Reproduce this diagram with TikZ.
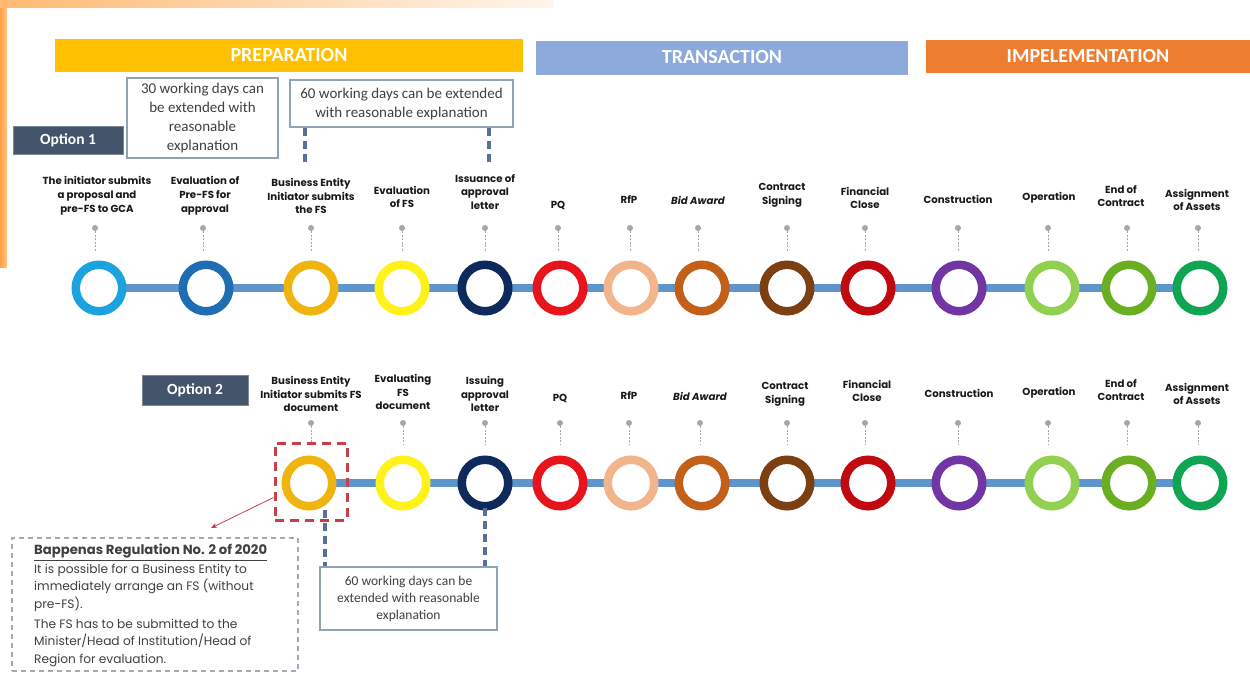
\documentclass[tikz,border=0pt]{standalone}
\usepackage{fontspec}
\setmainfont{Carlito}
\newfontfamily\lab{Poppins}
\usetikzlibrary{backgrounds,calc,arrows.meta}
\pgfdeclarelayer{bottom}
\pgfsetlayers{bottom,background,main}
\definecolor{prepY}{HTML}{FFC000}
\definecolor{transB}{HTML}{8EA9DB}
\definecolor{implO}{HTML}{ED7D31}
\definecolor{optBox}{HTML}{44546A}
\definecolor{tline}{HTML}{5E95CC}
\definecolor{boxBorder}{HTML}{8FA3B4}
\definecolor{boxTxt}{HTML}{404040}
\definecolor{vdash}{HTML}{5A6F9C}
\definecolor{redD}{HTML}{C6404A}
\definecolor{grayD}{HTML}{A3AAB6}
\definecolor{dotG}{HTML}{A6A6A6}
\definecolor{cA}{HTML}{1BA3E0}
\definecolor{cB}{HTML}{1F6DB3}
\definecolor{cC}{HTML}{F0B40F}
\definecolor{cD}{HTML}{FFF21A}
\definecolor{cE}{HTML}{0E2A5C}
\definecolor{cF}{HTML}{E8141C}
\definecolor{cG}{HTML}{F2B48A}
\definecolor{cH}{HTML}{C2601A}
\definecolor{cI}{HTML}{7B3F12}
\definecolor{cJ}{HTML}{C00A10}
\definecolor{cK}{HTML}{7236A4}
\definecolor{cL}{HTML}{92D050}
\definecolor{cM}{HTML}{6AAE22}
\definecolor{cN}{HTML}{0FA552}
\tikzset{
  ring/.style={circle, draw=#1, line width=8.5pt, minimum size=46.5pt, inner sep=0pt, fill=white},
  phase/.style={fill=#1, text=white, font=\bfseries\fontsize{20}{22}\selectfont, inner sep=0pt},
  optbox/.style={fill=optBox, text=white, font=\bfseries\fontsize{15.5}{17}\selectfont, inner sep=0pt, draw=optBox!70!white, line width=0.8pt},
  lbl/.style={align=center, text=black!90, font=\lab\bfseries\fontsize{10.2}{13.8}\selectfont, inner sep=0pt},
  ilbl/.style={lbl, font=\lab\bfseries\itshape\fontsize{10.2}{13.8}\selectfont},
  gdot/.style={circle, fill=dotG, minimum size=6pt, inner sep=0pt},
  stem/.style={draw=dotG, line width=0.6pt, dash pattern=on 2pt off 1.5pt},
  notebox/.style={draw=boxBorder, line width=1.2pt, fill=white, align=center, text=boxTxt, inner sep=0pt},
  bluedash/.style={draw=vdash, line width=3.5pt, dash pattern=on 8pt off 5pt},
  tl/.style={draw=tline, line width=7.5pt},
}
\begin{document}
\begin{tikzpicture}[x=1pt,y=-1pt]
\useasboundingbox (0,0) rectangle (1250,672);
\begin{pgfonlayer}{bottom}
\fill[white] (0,0) rectangle (1250,672);
\shade[left color=orange!75!white, right color=orange!45!white] (0,0) rectangle (7,267);
\shade[left color=orange!55!white, right color=orange!8!white] (0,0) rectangle (553,7);
\end{pgfonlayer}

% phase bars
\node[phase=prepY, minimum width=468pt, minimum height=33pt] (prep) at (289,55.5) {PREPARATION};
\node[phase=transB, minimum width=372pt, minimum height=34pt] (trans) at (722,57.5) {TRANSACTION};
\node[phase=implO, minimum width=324pt, minimum height=33pt] (impl) at (1088,56.5) {IMPELEMENTATION};

% option boxes
\node[optbox, minimum width=110pt, minimum height=28pt] (opt1) at (68,140) {Option 1};
\node[optbox, minimum width=106pt, minimum height=30pt] (opt2) at (195,390) {Option 2};

% notes top
\node[notebox, minimum width=151pt, minimum height=80pt, font=\fontsize{15}{19}\selectfont] (n30) at (202.5,118) {30 working days can\\be extended with\\reasonable\\explanation};
\node[notebox, minimum width=223pt, minimum height=47pt, font=\fontsize{15}{19}\selectfont] (n60a) at (401.5,103.5) {60 working days can be extended\\with reasonable explanation};

% ===== Option 1 circles =====
\node[ring=cA] (a1) at (99,288) {};
\node[ring=cB] (a2) at (206,288) {};
\node[ring=cC] (a3) at (311,288) {};
\node[ring=cD] (a4) at (402,288) {};
\node[ring=cE] (a5) at (485,288) {};
\node[ring=cF] (a6) at (560,288) {};
\node[ring=cG] (a7) at (631,288) {};
\node[ring=cH] (a8) at (702,288) {};
\node[ring=cI] (a9) at (787,288) {};
\node[ring=cJ] (a10) at (868,288) {};
\node[ring=cK] (a11) at (959,288) {};
\node[ring=cL] (a12) at (1052,288) {};
\node[ring=cM] (a13) at (1129,288) {};
\node[ring=cN] (a14) at (1200,288) {};
\begin{scope}[on background layer]
\draw[tl] (a1.center) -- (a14.center);
\end{scope}

% Option 1 labels
\node[lbl] (l1) at (97,196) {The initiator submits\\a proposal and\\pre-FS to GCA};
\node[lbl] (l2) at (205,196) {Evaluation of\\Pre-FS for\\approval};
\node[lbl] (l3) at (311,196) {Business Entity\\Initiator submits\\the FS};
\node[lbl] (l4) at (402,197) {Evaluation\\of FS};
\node[lbl] (l5) at (485,192) {Issuance of\\approval\\letter};
\node[lbl] (l6) at (558,205) {PQ};
\node[lbl] (l7) at (629,199) {RfP};
\node[ilbl] (l8) at (698,200) {Bid Award};
\node[lbl] (l9) at (782,195) {Contract\\Signing};
\node[lbl] (l10) at (865,198) {Financial\\Close};
\node[lbl] (l11) at (958,199) {Construction};
\node[lbl] (l12) at (1049,198) {Operation};
\node[lbl] (l13) at (1121,196) {End of\\Contract};
\node[lbl] (l14) at (1197,200) {Assignment\\of Assets};

% Option 1 dots and stems
\foreach \i/\x in {1/95,2/203,3/311,4/402,5/485,6/558,7/630,8/698,9/787,10/865,11/958,12/1048,13/1127,14/1198}{
  \node[gdot] (d\i) at (\x,228) {};
  \draw[stem] (d\i) -- ($(d\i)+(0,24)$);
}

% vertical blue dashes under top 60-day box
\coordinate (v1) at (305,164);
\coordinate (v2) at (489,164);
\draw[bluedash] (n60a.south -| v1) -- (v1);
\draw[bluedash] (n60a.south -| v2) -- (v2);

% ===== Option 2 circles =====
\node[ring=cC] (b1) at (309,483) {};
\node[ring=cD] (b2) at (403,483) {};
\node[ring=cE] (b3) at (485,483) {};
\node[ring=cF] (b4) at (560,483) {};
\node[ring=cG] (b5) at (631,483) {};
\node[ring=cH] (b6) at (702,483) {};
\node[ring=cI] (b7) at (787,483) {};
\node[ring=cJ] (b8) at (868,483) {};
\node[ring=cK] (b9) at (959,483) {};
\node[ring=cL] (b10) at (1052,483) {};
\node[ring=cM] (b11) at (1129,483) {};
\node[ring=cN] (b12) at (1200,483) {};
\begin{scope}[on background layer]
\draw[tl] (b1.center) -- (b12.center);
\end{scope}

% Option 2 labels
\node[lbl] (m1) at (311,394) {Business Entity\\Initiator submits FS\\document};
\node[lbl] (m2) at (403,392) {Evaluating\\FS\\document};
\node[lbl] (m3) at (485,394) {Issuing\\approval\\letter};
\node[lbl] (m4) at (560,398) {PQ};
\node[lbl] (m5) at (629,395) {RfP};
\node[ilbl] (m6) at (700,396) {Bid Award};
\node[lbl] (m7) at (785,394) {Contract\\Signing};
\node[lbl] (m8) at (867,391) {Financial\\Close};
\node[lbl] (m9) at (959,393) {Construction};
\node[lbl] (m10) at (1049,393) {Operation};
\node[lbl] (m11) at (1121,390) {End of\\Contract};
\node[lbl] (m12) at (1197,394) {Assignment\\of Assets};

\foreach \i/\x in {1/311,2/403,3/485,4/560,5/629,6/700,7/787,8/865,9/958,10/1048,11/1127,12/1198}{
  \node[gdot] (e\i) at (\x,423) {};
  \draw[stem] (e\i) -- ($(e\i)+(0,22)$);
}

% red dashed square around first Option 2 circle
\node[draw=redD, line width=3pt, dash pattern=on 9pt off 6pt, minimum width=72pt, minimum height=77pt, inner sep=0pt] (rsq) at (311,481.5) {};

% Bappenas box
\node[draw=grayD, line width=1.2pt, dash pattern=on 5pt off 4pt, minimum width=286pt, minimum height=133pt, inner sep=0pt] (bapp) at (155,604.5) {};
\node[anchor=north west, align=left, inner sep=0pt, text=boxTxt, font=\lab\fontsize{12.2}{17.6}\selectfont] (bt) at (34,544) {%
{\bfseries\fontsize{13.2}{17.6}\selectfont\underline{Bappenas Regulation No. 2 of 2020}}\\[1pt]
It is possible for a Business Entity to\\
immediately arrange an FS (without\\
pre-FS).\\[2pt]
The FS has to be submitted to the\\
Minister/Head of Institution/Head of\\
Region for evaluation.};

% red arrow
\coordinate (tip) at (211,528);
\draw[redD, line width=0.8pt, -{Stealth[length=6pt,width=5pt]}] ([yshift=-16pt]rsq.west) -- (tip);

% bottom 60-day box
\node[notebox, minimum width=177pt, minimum height=63pt, font=\fontsize{13.5}{17}\selectfont] (n60b) at (408.5,598.5) {60 working days can be\\extended with reasonable\\explanation};
\coordinate (w1) at (325,510);
\coordinate (w2) at (485,508);
\draw[bluedash] (w1) -- (w1 |- n60b.north);
\draw[bluedash] (w2) -- (w2 |- n60b.north);
\end{tikzpicture}
\end{document}
